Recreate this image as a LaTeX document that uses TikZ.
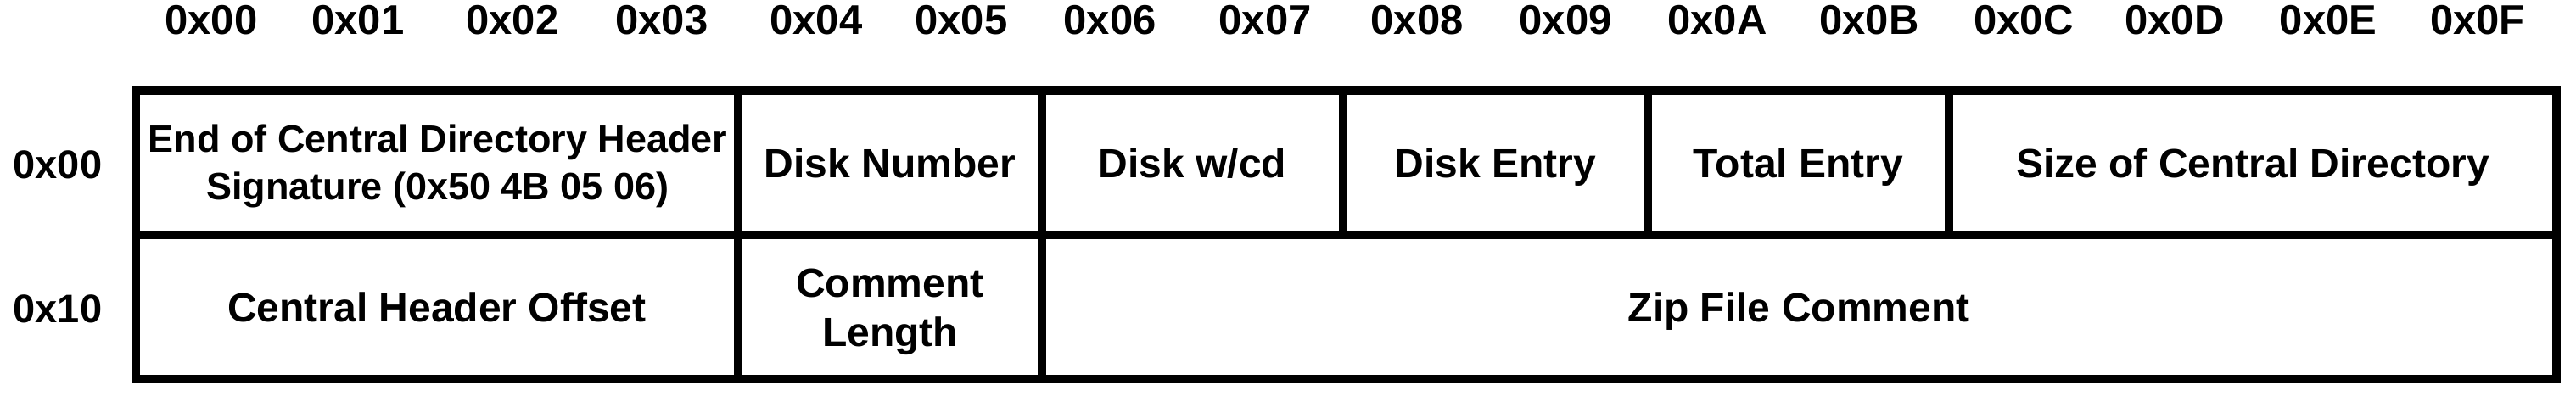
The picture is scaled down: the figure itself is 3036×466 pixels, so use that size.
\documentclass[tikz,border=0pt]{standalone}
\usepackage{fontspec}
\setmainfont{Liberation Sans}
\begin{document}
\begin{tikzpicture}[x=0.5pt,y=-0.5pt,
  cell/.style={draw, line width=4.75pt, inner sep=0pt, minimum height=85pt},
  hdr/.style={font=\fontsize{24.5}{29}\selectfont\bfseries, anchor=base, inner sep=0pt},
  rowlbl/.style={font=\fontsize{23.5}{28}\selectfont\bfseries, anchor=base, inner sep=0pt},
  txt/.style={font=\fontsize{24}{29}\selectfont\bfseries, anchor=base, inner sep=0pt, align=center},
  txtsmall/.style={font=\fontsize{22.5}{28}\selectfont\bfseries, anchor=base, inner sep=0pt, align=center},
]
\useasboundingbox (0,0) rectangle (3036,466);
% column headers
\node[hdr] (h0) at (249,40) {0x00};
\node[hdr] (h1) at (422,40) {0x01};
\node[hdr] (h2) at (604,40) {0x02};
\node[hdr] (h3) at (780,40) {0x03};
\node[hdr] (h4) at (962,40) {0x04};
\node[hdr] (h5) at (1133,40) {0x05};
\node[hdr] (h6) at (1308,40) {0x06};
\node[hdr] (h7) at (1491,40) {0x07};
\node[hdr] (h8) at (1670,40) {0x08};
\node[hdr] (h9) at (1845,40) {0x09};
\node[hdr] (hA) at (2024,40) {0x0A};
\node[hdr] (hB) at (2203,40) {0x0B};
\node[hdr] (hC) at (2385,40) {0x0C};
\node[hdr] (hD) at (2563,40) {0x0D};
\node[hdr] (hE) at (2744,40) {0x0E};
\node[hdr] (hF) at (2920,40) {0x0F};
% row labels
\node[rowlbl] (r0) at (68,210) {0x00};
\node[rowlbl] (r1) at (68,380) {0x10};
% row 1 cells
\node[cell, minimum width=355pt] (c1) at (515,192) {};
\node[cell, minimum width=179pt] (c2) at (1049,192) {};
\node[cell, minimum width=177.5pt] (c3) at (1405.5,192) {};
\node[cell, minimum width=179.5pt] (c4) at (1762.5,192) {};
\node[cell, minimum width=177.5pt] (c5) at (2119.5,192) {};
\node[cell, minimum width=358pt] (c6) at (2655,192) {};
% row 2 cells
\node[cell, minimum width=355pt] (d1) at (515,362) {};
\node[cell, minimum width=179pt] (d2) at (1049,362) {};
\node[cell, minimum width=892.5pt] (d3) at (2120.5,362) {};
% texts
\node[txtsmall] (t1) at (516,235) {End of Central Directory Header\\Signature (0x50 4B 05 06)};
\node[txt] (t2) at (1049,209) {Disk Number};
\node[txt] (t3) at (1405.5,209) {Disk w/cd};
\node[txt] (t4) at (1762.5,209) {Disk Entry};
\node[txt] (t5) at (2119.5,209) {Total Entry};
\node[txt] (t6) at (2655,209) {Size of Central Directory};
\node[txt] (u1) at (515,379) {Central Header Offset};
\node[txt] (u2) at (1049,408) {Comment\\Length};
\node[txt] (u3) at (2120,379) {Zip File Comment};
\end{tikzpicture}
\end{document}
